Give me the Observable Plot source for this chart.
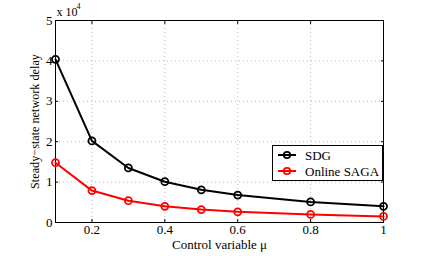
<!DOCTYPE html>
<html>
<head>
<meta charset="utf-8">
<script src="https://cdn.jsdelivr.net/npm/d3@7"></script>
<script src="https://cdn.jsdelivr.net/npm/@observablehq/plot@0.6"></script>
<style>
  html, body { margin: 0; padding: 0; background: #fff; }
  #wrap { position: relative; width: 426px; height: 256px; }
  #wrap, #wrap svg, #wrap text { font-family: "Liberation Serif", "Times New Roman", "DejaVu Serif", serif !important; }
  #legend { position: absolute; left: 272px; top: 145px; }
</style>
</head>
<body>
<div id="wrap"><div id="chart"></div><div id="legend"></div></div>
<script>
const mu = [0.1, 0.2, 0.3, 0.4, 0.5, 0.6, 0.8, 1.0];
const sdg = [40400, 20200, 13500, 10100, 8100, 6800, 5100, 4000];
const saga = [14800, 7900, 5400, 4000, 3200, 2650, 2000, 1500];
const seriesNames = ["SDG", "Online SAGA"];
const seriesColors = ["#000000", "#ff0000"];
const xTicks = [0.2, 0.4, 0.6, 0.8, 1];
const yTicks = [0, 10000, 20000, 30000, 40000, 50000];
const xLabel = "Control variable \u03bc";
const yLabel = "Steady\u2212state network delay";

const data = [];
[sdg, saga].forEach((vals, s) => mu.forEach((m, i) => data.push({series: seriesNames[s], mu: m, v: vals[i]})));

const font = "'Liberation Serif', 'Times New Roman', serif";
const chart = Plot.plot({
  width: 426,
  height: 256,
  marginLeft: 55,
  marginRight: 43,
  marginTop: 20,
  marginBottom: 34,
  style: {fontFamily: font, fontSize: "12px", background: "white", color: "black"},
  x: {domain: [0.1, 1]},
  y: {domain: [0, 50000]},
  color: {domain: seriesNames, range: seriesColors},
  marks: [
    Plot.gridX(xTicks.filter(d => d < 1), {stroke: "#aaa", strokeOpacity: 1, strokeDasharray: "1,3", strokeWidth: 0.8}),
    Plot.gridY(yTicks.filter(d => d > 0 && d < 50000), {stroke: "#aaa", strokeOpacity: 1, strokeDasharray: "1,3", strokeWidth: 0.8}),
    Plot.axisX(xTicks, {anchor: "bottom", tickSize: 0, tickPadding: 2, tickFormat: d => String(d), label: null, fontSize: 13}),
    Plot.axisX(xTicks, {anchor: "bottom", tickSize: -3, tickFormat: () => "", label: null}),
    Plot.axisX(xTicks, {anchor: "top", tickSize: -3, tickFormat: () => "", label: null}),
    Plot.axisY(yTicks, {anchor: "left", tickSize: 0, tickPadding: 3, tickFormat: d => String(d / 10000), label: null, fontSize: 13}),
    Plot.axisY(yTicks, {anchor: "left", tickSize: -3, tickFormat: () => "", label: null}),
    Plot.axisY(yTicks, {anchor: "right", tickSize: -3, tickFormat: () => "", label: null}),
    Plot.frame({stroke: "black", strokeWidth: 1}),
    Plot.line(data, {x: "mu", y: "v", z: "series", stroke: "series", strokeWidth: 2}),
    Plot.dot(data, {x: "mu", y: "v", stroke: "series", r: 3.5, strokeWidth: 1.8, fill: "none"}),
    Plot.text([xLabel], {frameAnchor: "bottom", lineAnchor: "middle", dy: 22, text: d => d, fontSize: 13}),
    Plot.text([yLabel], {frameAnchor: "left", textAnchor: "middle", lineAnchor: "middle", dx: -20, rotate: -90, text: d => d, fontSize: 12.2}),
    Plot.text(["x 10"], {frameAnchor: "top-left", lineAnchor: "middle", dx: 1, dy: -8, textAnchor: "start", text: d => d, fontSize: 12}),
    Plot.text(["4"], {frameAnchor: "top-left", lineAnchor: "middle", dx: 21, dy: -14, textAnchor: "start", text: d => d, fontSize: 8})
  ]
});
document.getElementById("chart").appendChild(chart);

// Legend
const lw = 110, lh = 35;
const svg = d3.select("#legend").append("svg").attr("width", lw + 1).attr("height", lh + 1)
  .style("font-family", font).style("font-size", "13px");
svg.append("rect").attr("x", 0.5).attr("y", 0.5).attr("width", lw).attr("height", lh)
  .attr("fill", "white").attr("stroke", "black");
seriesNames.forEach((name, i) => {
  const g = svg.append("g").attr("transform", `translate(0,${10 + i * 16})`);
  g.append("line").attr("x1", 6).attr("x2", 24).attr("y1", 0).attr("y2", 0)
    .attr("stroke", seriesColors[i]).attr("stroke-width", 2);
  g.append("circle").attr("cx", 15).attr("cy", 0).attr("r", 3.2)
    .attr("fill", "none").attr("stroke", seriesColors[i]).attr("stroke-width", 1.8);
  g.append("text").attr("x", 33).attr("y", 0).attr("dy", "0.35em").text(name);
});
</script>
</body>
</html>
